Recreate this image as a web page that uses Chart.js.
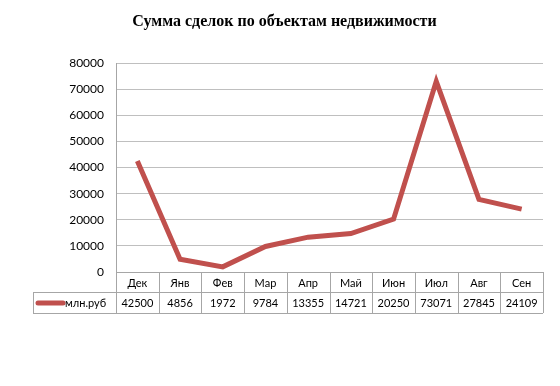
<!DOCTYPE html>
<html>
<head>
<meta charset="utf-8">
<script src="https://cdn.jsdelivr.net/npm/chart.js@4"></script>
<style>
  body { margin: 0; background: #fff; }
  #wrap { width: 560px; height: 386px; }
</style>
</head>
<body>
<div id="wrap"><canvas id="chart" width="560" height="386"></canvas></div>
<script>
var chartTitle = 'Сумма сделок по объектам недвижимости';
var months = ['Дек', 'Янв', 'Фев', 'Мар', 'Апр', 'Май', 'Июн', 'Июл', 'Авг', 'Сен'];
var seriesName = 'млн.руб';
var sums = [42500, 4856, 1972, 9784, 13355, 14721, 20250, 73071, 27845, 24109];
var yTicks = [0, 10000, 20000, 30000, 40000, 50000, 60000, 70000, 80000];

var lineColor = '#c0504d';
var cellBorder = '#a6a6a6';

// data table under the plot, like in the excel chart
var dataTable = {
    id: 'dataTable',
    afterDraw: function(chart) {
        var ctx = chart.ctx;
        var x = chart.scales.x;
        var area = chart.chartArea;
        var band = (x.right - x.left) / months.length;
        var top = area.bottom;
        var mid = top + 20;
        var bottom = top + 41;
        var tableLeft = 33;

        ctx.save();
        ctx.strokeStyle = cellBorder;
        ctx.lineWidth = 1;
        ctx.beginPath();
        // horizontal lines
        ctx.moveTo(x.left, top + 0.5);
        ctx.lineTo(x.right, top + 0.5);
        ctx.moveTo(tableLeft, mid + 0.5);
        ctx.lineTo(x.right, mid + 0.5);
        ctx.moveTo(tableLeft, bottom + 0.5);
        ctx.lineTo(x.right, bottom + 0.5);
        // vertical lines
        ctx.moveTo(tableLeft + 0.5, mid);
        ctx.lineTo(tableLeft + 0.5, bottom);
        for (var i = 0; i <= months.length; i++) {
            var ex = Math.round(x.left + band * i) + 0.5;
            ctx.moveTo(ex, top);
            ctx.lineTo(ex, bottom);
        }
        ctx.stroke();

        ctx.fillStyle = '#000';
        ctx.textAlign = 'center';
        ctx.textBaseline = 'middle';
        ctx.font = '11px Lato';
        months.forEach(function(m, i) {
            var cx = x.getPixelForValue(i);
            ctx.fillText(m, cx, top + 11);
            ctx.fillText(String(sums[i]), cx, mid + 11);
        });

        // legend key
        ctx.strokeStyle = lineColor;
        ctx.lineWidth = 5;
        ctx.lineCap = 'round';
        ctx.beginPath();
        ctx.moveTo(38, mid + 11);
        ctx.lineTo(63, mid + 11);
        ctx.stroke();
        ctx.textAlign = 'left';
        ctx.fillText(seriesName, 65, mid + 11);
        ctx.restore();
    }
};

new Chart(document.getElementById('chart'), {
    type: 'line',
    data: {
        labels: months,
        datasets: [{
            label: seriesName,
            data: sums,
            borderColor: lineColor,
            borderWidth: 5,
            pointRadius: 0,
            tension: 0,
            fill: false
        }]
    },
    options: {
        responsive: false,
        animation: false,
        layout: {
            padding: { top: 0, right: 17, bottom: 114, left: 26 }
        },
        plugins: {
            legend: { display: false },
            tooltip: { enabled: false },
            title: {
                display: true,
                text: chartTitle,
                color: '#000',
                font: { family: 'Liberation Serif', size: 16, weight: 'bold' },
                padding: { top: 12, bottom: 32 }
            }
        },
        scales: {
            x: {
                display: false,
                offset: true
            },
            y: {
                min: 0,
                max: 80000,
                afterFit: function(scale) { scale.width = 90; },
                afterBuildTicks: function(scale) {
                    scale.ticks = yTicks.map(function(v) { return { value: v }; });
                },
                grid: { color: '#bfbfbf', drawTicks: false },
                border: { color: cellBorder },
                ticks: {
                    padding: 12,
                    color: '#000',
                    font: { family: 'Lato', size: 12 },
                    callback: function(v) { return String(v); }
                }
            }
        }
    },
    plugins: [dataTable]
});
</script>
</body>
</html>
